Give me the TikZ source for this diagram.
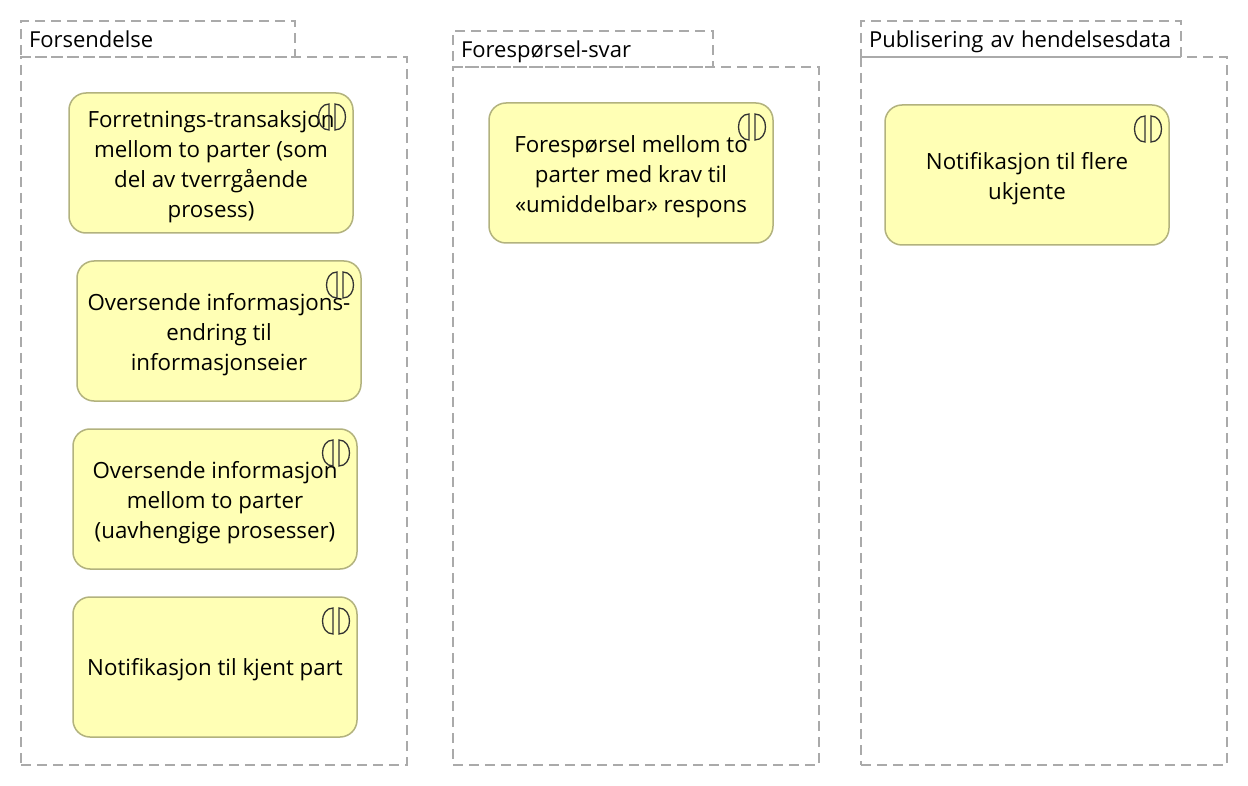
\documentclass[tikz,border=0pt]{standalone}
\usepackage{fontspec}
\setmainfont{Open Sans}
\definecolor{boxfill}  {RGB}{255,255,181}
\definecolor{boxline}  {RGB}{178,178,126}
\definecolor{grpline}  {RGB}{170,170,170}
\newcommand{\topstrut}{\rule{0pt}{24pt}}
\tikzset{group body/.style={
    anchor=north west, inner sep=0pt, outer sep=0pt,
    draw=grpline, line width=1.5pt, dash pattern=on 10pt off 6pt,
}}
\tikzset{group tab/.style={
    group body,
    inner xsep=8pt, align=left,
    text height=17pt, text depth=0pt,
    font=\fontsize{22}{26}\selectfont,
}}
\tikzset{service/.style={
    anchor=north west, inner sep=0pt, outer sep=0pt,
    rectangle, rounded corners=17pt,
    draw=boxline, line width=1.5pt, fill=boxfill,
    minimum width=284pt, minimum height=140pt,
    align=center, font=\fontsize{22.3}{30}\selectfont,
}}
\tikzset{service icon/.pic={
    \draw [black!80, line width=1.3pt] (-3,-13) .. controls (-17,-13) and (-17,13) .. (-3,13) -- cycle;
    \draw [black!80, line width=1.3pt] (3,-13) .. controls (17,-13) and (17,13) .. (3,13) -- cycle;
}}
\begin{document}
\begin{tikzpicture}[x=1pt,y=-1pt]
            \useasboundingbox (0,0) rectangle (1248,786);

            \node (forsendelse) [group body, minimum width=386pt, minimum height=708pt] at(21,57)  {};
            \node (forespbody)  [group body, minimum width=366pt, minimum height=698pt] at(453,67) {};
            \node (publbody)    [group body, minimum width=366pt, minimum height=708pt] at(861,57) {};

            \node (forstab)  [group tab, minimum height=36pt, text width=258pt] at(21,21)  {Forsendelse};
            \node (foresptab) [group tab, minimum height=36pt, text width=244pt] at(453,31) {Forespørsel-svar};
            \node (publtab)  [group tab, minimum height=36pt, text width=304pt] at(861,21) {Publisering av hendelsesdata};

            \node (trans)  [service] at(69,93)  {\topstrut Forretnings-transaksjon\\mellom to parter (som\\del av tverrgående\\prosess)};
            \node (endring) [service] at(77,261) {\topstrut Oversende informasjons-\\endring til\\informasjonseier};
            \node (oversend) [service] at(73,429) {\topstrut Oversende informasjon\\mellom to parter\\(uavhengige prosesser)};
            \node (kjent)  [service] at(73,597) {\rule{0pt}{22pt}Notifikasjon til kjent part};
            \node (foresp) [service] at(489,103) {\topstrut Forespørsel mellom to\\parter med krav til\\«umiddelbar» respons};
            \node (ukjente) [service] at(885,105) {\topstrut Notifikasjon til flere\\ukjente};

            % icons
            \foreach \boxname in {trans,endring,oversend,kjent,foresp,ukjente}
              \pic at ([xshift=-21pt,yshift=-24pt]\boxname.north east) {service icon};
        \end{tikzpicture}
\end{document}
